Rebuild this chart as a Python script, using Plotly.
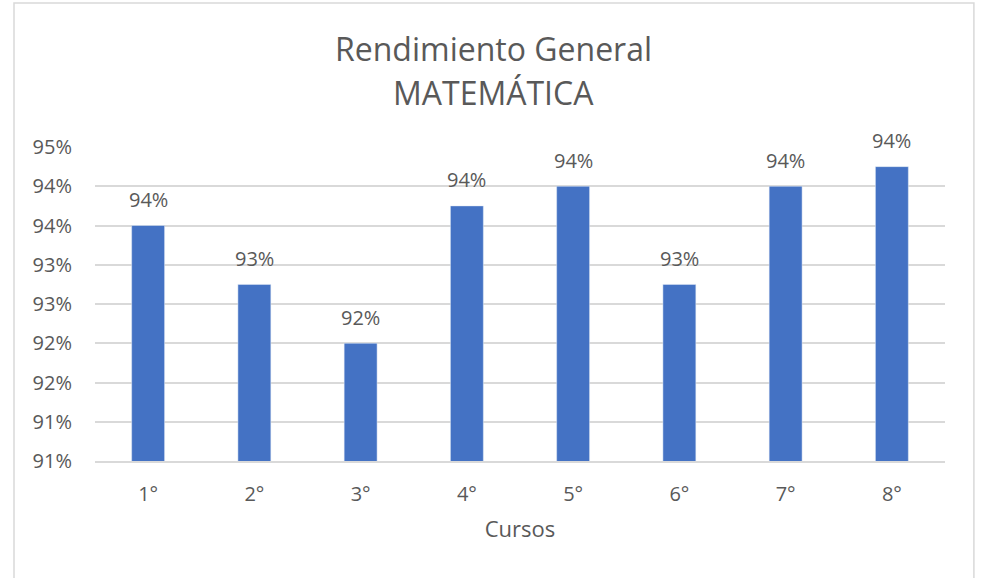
import math
import plotly.graph_objects as go

# --- Data ---
cursos = ["1°", "2°", "3°", "4°", "5°", "6°", "7°", "8°"]
rendimiento = [0.935, 0.9275, 0.92, 0.9375, 0.94, 0.9275, 0.94, 0.9425]
y_ticks = [0.905, 0.91, 0.915, 0.92, 0.925, 0.93, 0.935, 0.94, 0.945]
titulo = ["Rendimiento General", "MATEMÁTICA"]


def pct_label(v):
    # Excel-style rounding (half away from zero) to whole percent
    return f"{math.floor(v * 100 + 0.5 + 1e-9)}%"


GREY = "#595959"
GRID = "#D9D9D9"
FONT = "Open Sans"

fig = go.Figure()
fig.add_trace(go.Bar(
    x=cursos, y=rendimiento,
    marker=dict(color="#4472C4"),
    width=0.31,
    hoverinfo="skip",
))

# data labels above bars
for c, v in zip(cursos, rendimiento):
    fig.add_annotation(
        x=c, y=v, text=pct_label(v), showarrow=False,
        yanchor="middle", yshift=26,
        font=dict(family=FONT, size=20, color=GREY),
    )

# two-line chart title, centred on the outer chart frame
for line, ypos in zip(titulo, [1.315, 1.172]):
    fig.add_annotation(
        xref="paper", yref="paper", x=0.469, y=ypos, text=line,
        showarrow=False, xanchor="center", yanchor="middle",
        font=dict(family=FONT, size=32, color=GREY),
    )

# outer chart border (bottom edge runs just past the window)
fig.add_shape(
    type="rect", xref="paper", yref="paper",
    x0=-0.0953, x1=1.034, y0=-0.385, y1=1.4586,
    line=dict(color=GRID, width=1.5), fillcolor="rgba(0,0,0,0)",
)

fig.update_layout(
    width=982, height=578,
    margin=dict(l=95, r=37, t=147, b=117),
    paper_bgcolor="white", plot_bgcolor="white",
    showlegend=False,
    font=dict(family=FONT, color=GREY),
    xaxis=dict(
        showgrid=False, showline=True, linecolor=GRID, linewidth=1.5,
        ticks="", ticklabelstandoff=14,
        tickfont=dict(family=FONT, size=20, color=GREY),
        title=dict(text="Cursos", standoff=16,
                   font=dict(family=FONT, size=22, color=GREY)),
    ),
    yaxis=dict(
        range=[0.905, 0.945],
        tickvals=y_ticks, ticktext=[pct_label(t) for t in y_ticks],
        showgrid=True, gridcolor=GRID, gridwidth=1.5,
        zeroline=False, showline=False, ticks="", ticklabelstandoff=22,
        tickfont=dict(family=FONT, size=20, color=GREY),
    ),
)

fig.write_html("out.html", config={"displayModeBar": False},
               post_script="document.body.style.margin='0px';")
